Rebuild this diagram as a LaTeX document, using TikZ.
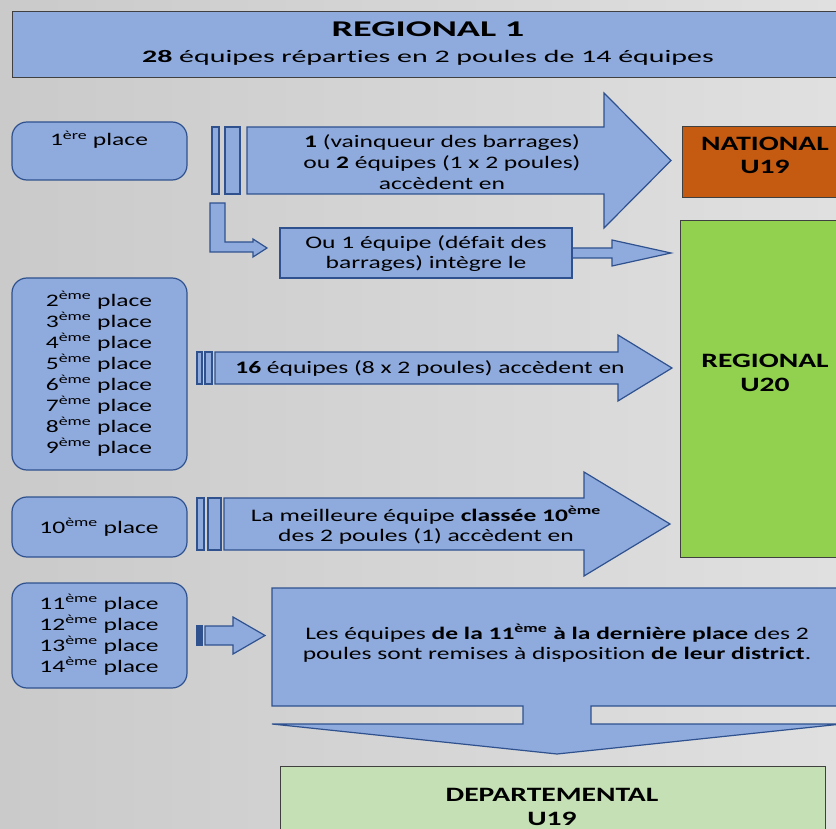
\documentclass[tikz,border=0pt]{standalone}
\usepackage{fontspec}
\setmainfont[Ligatures=NoCommon]{Carlito}
\newfontfamily\stretchfont[FakeStretch=1.45, Ligatures=NoCommon]{Carlito}
\newfontfamily\widefont[FakeStretch=1.7, Ligatures=NoCommon]{Carlito}
\usetikzlibrary{positioning}

\definecolor{boxblue}{RGB}{143,170,220}
\definecolor{lineblue}{RGB}{47,82,143}
\definecolor{natorange}{RGB}{197,90,17}
\definecolor{reggreen}{RGB}{146,208,80}
\definecolor{depgreen}{RGB}{197,224,180}
\definecolor{frame}{RGB}{64,64,64}
\definecolor{bgleft}{RGB}{202,202,202}
\definecolor{bgright}{RGB}{224,224,224}

\begin{document}
\begin{tikzpicture}[x=1pt, y=-1pt,
  place/.style={rectangle, rounded corners=15pt, draw=lineblue, line width=1.2pt, fill=boxblue, minimum width=175pt, anchor=north west, outer sep=0pt},
  flat/.style={rectangle, draw=lineblue, line width=1.2pt, fill=boxblue, anchor=north west, outer sep=0pt},
  level/.style={rectangle, draw=frame, line width=1pt, anchor=north west, outer sep=0pt},
  blockarrow/.style={draw=lineblue, line width=1.2pt, fill=boxblue, line join=miter},
  txt/.style={anchor=base, align=center, inner sep=0pt, font=\stretchfont\fontsize{17.6}{21}\selectfont},
  bigtxt/.style={anchor=base, align=center, inner sep=0pt, font=\stretchfont\bfseries\fontsize{20.4}{23.5}\selectfont}]

\useasboundingbox (0,0) rectangle (836,829);
\clip (0,0) rectangle (836,829);
\fill[left color=bgleft, right color=bgright] (0,0) rectangle (836,829);

% boxes
\node (title) [level, fill=boxblue, minimum width=832pt, minimum height=66pt] at (12,12) {};
\node (first) [place, minimum height=58pt] at (12,122) {};
\node (middle) [place, minimum height=192pt] at (12,278) {};
\node (tenth) [place, minimum height=60pt] at (12,497) {};
\node (bottom) [place, minimum height=105pt] at (12,583) {};
\node (national) [level, fill=natorange, minimum width=170pt, minimum height=71pt] at (682,127) {};
\node (regional) [level, fill=reggreen, minimum width=170pt, minimum height=336pt] at (680,221) {};
\node (departmental) [level, fill=depgreen, minimum width=545pt, minimum height=80pt] at (280,766) {};

% block arrows
\draw[blockarrow] (212,127) rectangle (219,194);
\draw[blockarrow] (225,127) rectangle (240,194);
\draw[blockarrow] (247,127) -- (604,127) -- (604,93) -- (671,160.5) -- (604,228) -- (604,194) -- (247,194) -- cycle;

\draw[blockarrow] (210,203) -- (225,203) -- (225,242) -- (253,242) -- (253,239) -- (267,248) -- (253,257) -- (253,252) -- (210,252) -- cycle;
\draw[blockarrow] (560,248) -- (612,248) -- (612,240) -- (671,253) -- (612,266) -- (612,258) -- (560,258) -- cycle;
\node (fallback) [flat, minimum width=292pt, minimum height=50pt] at (280,228) {};

\draw[blockarrow] (197,352) rectangle (202,384);
\draw[blockarrow] (205,352) rectangle (212,384);
\draw[blockarrow] (215,352) -- (618,352) -- (618,335) -- (672,368) -- (618,401) -- (618,384) -- (215,384) -- cycle;

\draw[blockarrow] (197,498) rectangle (204,550);
\draw[blockarrow] (208,498) rectangle (221,550);
\draw[blockarrow] (224,498) -- (584,498) -- (584,472) -- (670,524) -- (584,576) -- (584,550) -- (224,550) -- cycle;

\draw[blockarrow, fill=lineblue] (197,626) rectangle (202,645);
\draw[blockarrow] (205,626) -- (233,626) -- (233,617) -- (265,635.5) -- (233,654) -- (233,645) -- (205,645) -- cycle;

\draw[blockarrow] (272,588) -- (842,588) -- (842,706) -- (591,706) -- (591,724) -- (842,724) -- (557,754) -- (272,724) -- (523,724) -- (523,706) -- (272,706) -- cycle;

% texts (base = last line)
\node (titletxt) [anchor=base, inner sep=0pt, font=\widefont\bfseries\fontsize{22.5}{27}\selectfont] at (428,37) {REGIONAL 1};
\node (subtxt) [anchor=base, inner sep=0pt, font=\widefont\fontsize{17.6}{21}\selectfont] at (428,63) {\textbf{28} équipes réparties en 2 poules de 14 équipes};

\node (firsttxt) [txt] at (99,146) {1\textsuperscript{ère} place};
\node (middletxt) [txt] at (99,453) {2\textsuperscript{ème} place\\3\textsuperscript{ème} place\\4\textsuperscript{ème} place\\5\textsuperscript{ème} place\\6\textsuperscript{ème} place\\7\textsuperscript{ème} place\\8\textsuperscript{ème} place\\9\textsuperscript{ème} place};
\node (tenthtxt) [txt] at (99,533) {10\textsuperscript{ème} place};
\node (bottomtxt) [txt] at (99,672) {11\textsuperscript{ème} place\\12\textsuperscript{ème} place\\13\textsuperscript{ème} place\\14\textsuperscript{ème} place};

\node (risetxt) [txt] at (442,190) {\textbf{1} (vainqueur des barrages)\\ou \textbf{2} équipes (1 x 2 poules)\\accèdent en};
\node (fallbacktxt) [txt, font=\stretchfont\fontsize{17.6}{20}\selectfont] at (426,269) {Ou 1 équipe (défait des\\barrages) intègre le};
\node (middlearrowtxt) [txt] at (430,373) {\textbf{16} équipes (8 x 2 poules) accèdent en};
\node (tentharrowtxt) [txt, font=\stretchfont\fontsize{17.6}{20}\selectfont] at (426,541) {La meilleure équipe \textbf{classée 10\textsuperscript{ème}}\\des 2 poules (1) accèdent en};
\node (districttxt) [txt, font=\stretchfont\fontsize{17.6}{20}\selectfont] at (557,659) {Les équipes \textbf{de la 11\textsuperscript{ème} à la dernière place} des 2\\poules sont remises à disposition \textbf{de leur district}.};

\node (nationaltxt) [bigtxt] at (765,174) {NATIONAL\\U19};
\node (regionaltxt) [bigtxt] at (765,391) {REGIONAL\\U20};
\node (departmentaltxt) [bigtxt] at (552,825) {DEPARTEMENTAL\\U19};
\end{tikzpicture}
\end{document}
